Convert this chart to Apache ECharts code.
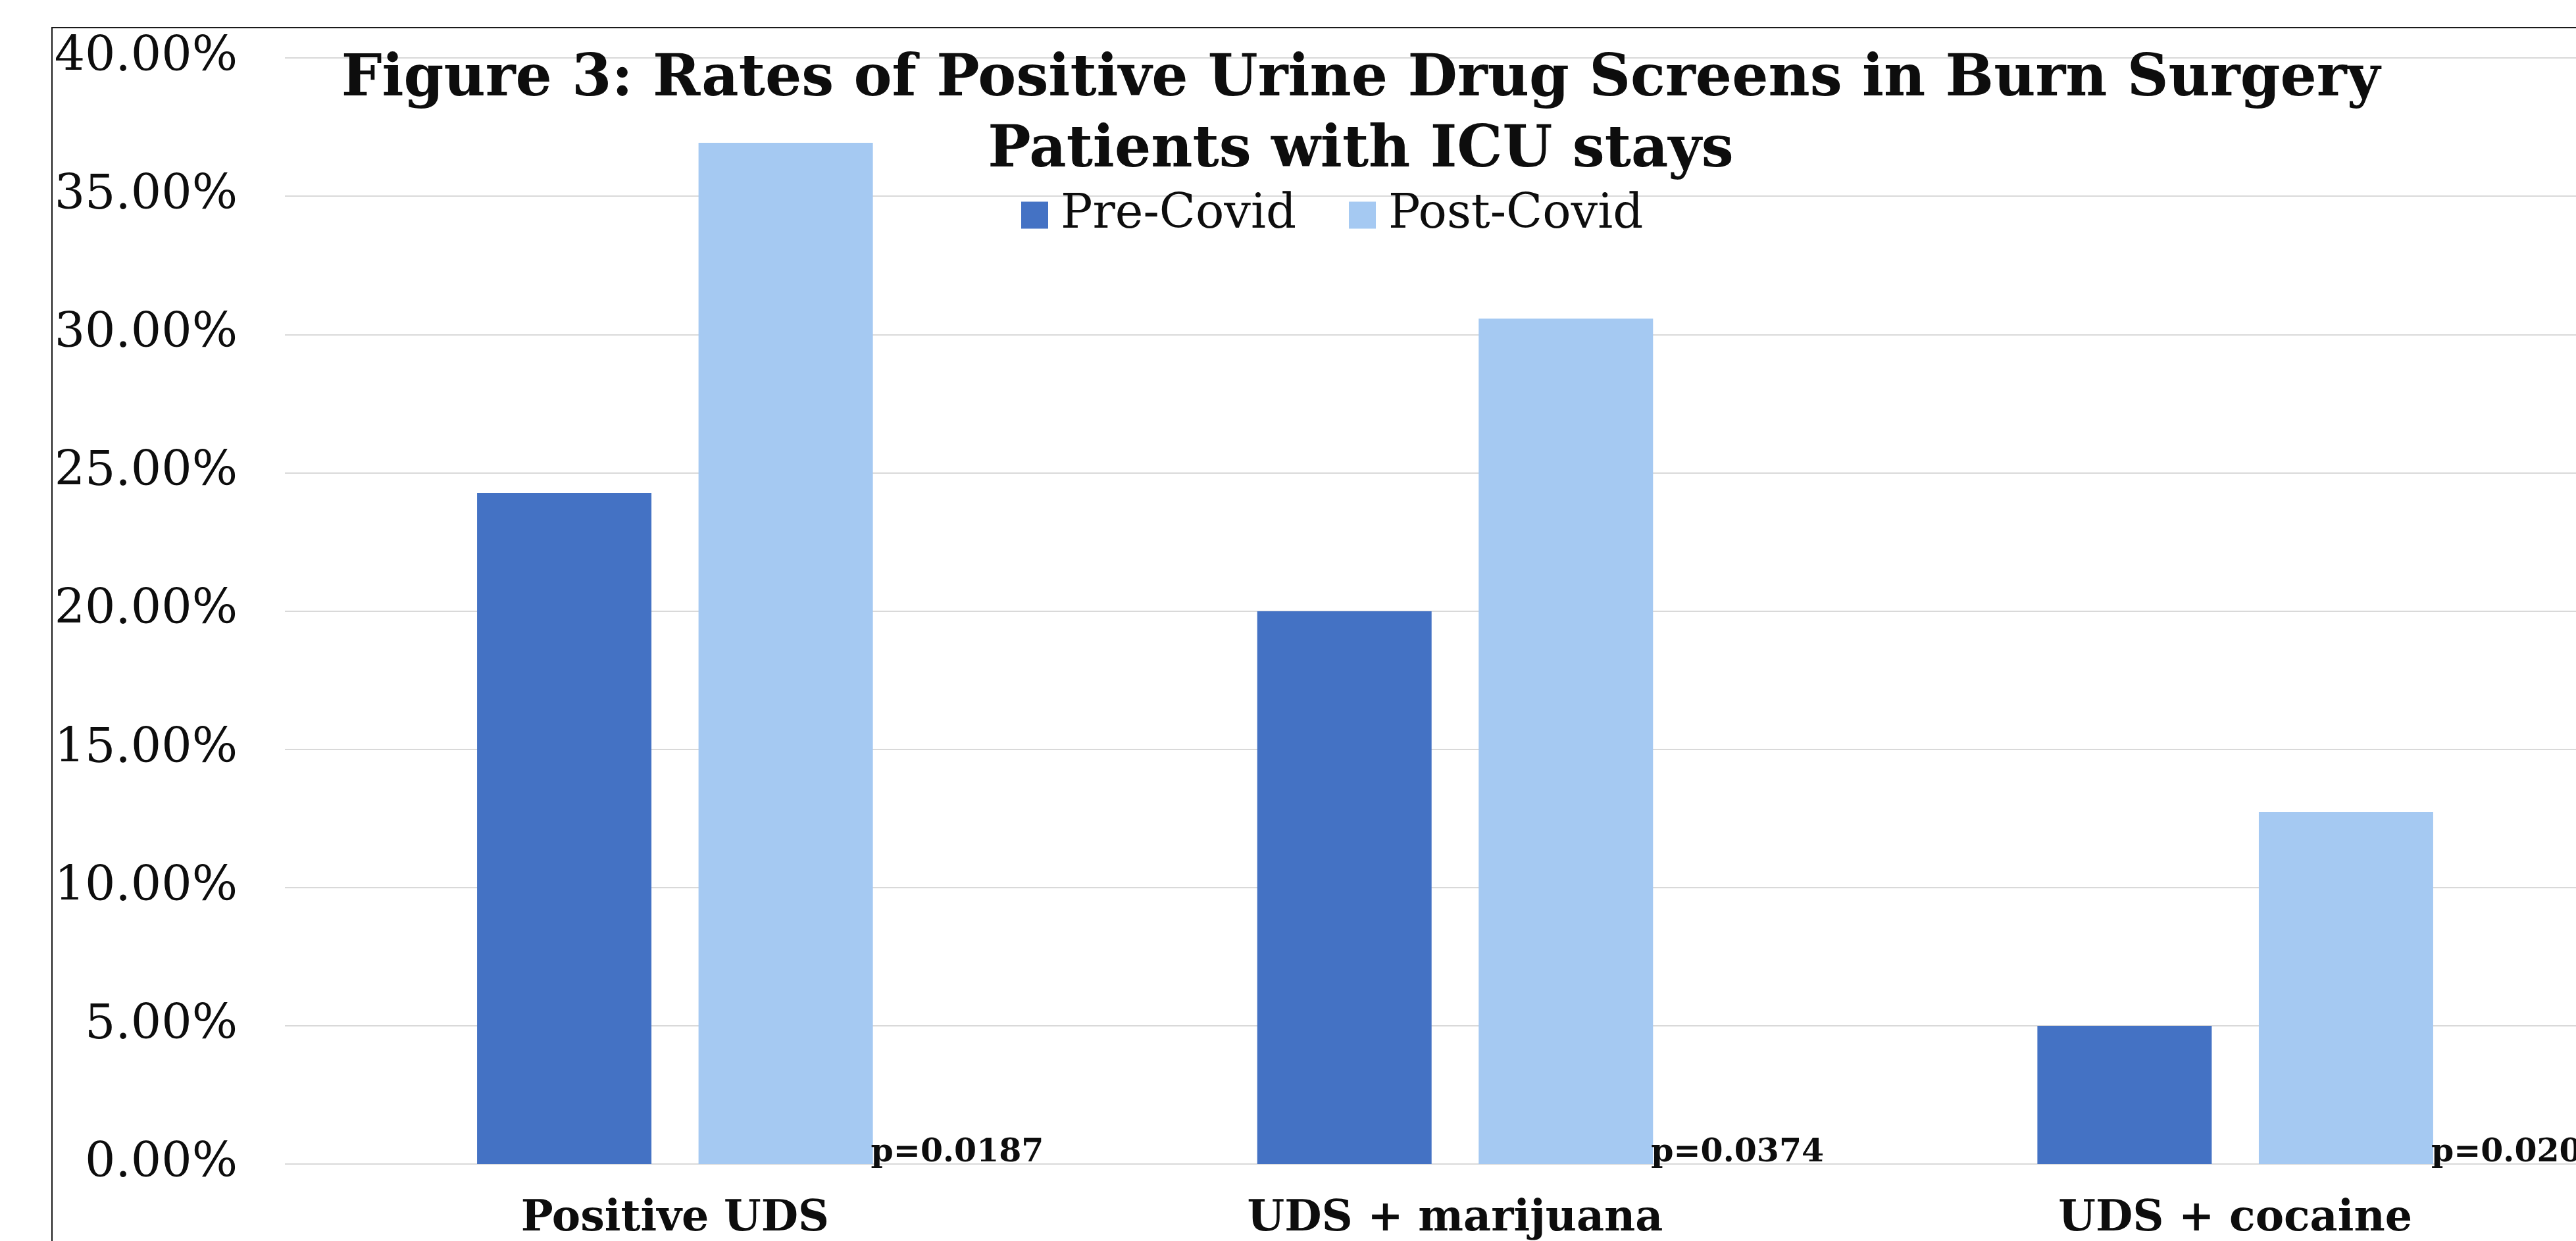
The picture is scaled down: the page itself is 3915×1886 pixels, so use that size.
<!DOCTYPE html>
<html>
<head>
<meta charset="utf-8">
<script src="https://cdn.jsdelivr.net/npm/echarts@6/dist/echarts.min.js"></script>
<style>
html,body{margin:0;padding:0;background:#fff;overflow:hidden;width:3915px;height:1886px;}
#c{width:4000px;height:1886px;}
</style>
</head>
<body>
<div id="c"></div>
<script>
const categories = ['Positive UDS', 'UDS + marijuana', 'UDS + cocaine'];
const preCovid = [24.27, 19.99, 5.0];
const postCovid = [36.93, 30.57, 12.73];
const pValues = ['p=0.0187', 'p=0.0374', 'p=0.020'];
const seriesNames = ['Pre-Covid', 'Post-Covid'];
const titleText = 'Figure 3: Rates of Positive Urine Drug Screens in Burn Surgery\nPatients with ICU stays';

const FONT = 'DejaVu Serif';
const chart = echarts.init(document.getElementById('c'), null, {renderer: 'canvas'});
chart.setOption({
  animation: false,
  backgroundColor: '#ffffff',
  title: {
    text: titleText,
    left: 2068,
    top: 68,
    padding: 0,
    textAlign: 'center',
    textStyle: {fontFamily: FONT, fontWeight: 'bold', fontSize: 87, lineHeight: 108, color: '#0d0d0d'}
  },
  legend: {
    data: seriesNames,
    left: 1552,
    top: 291,
    padding: 0,
    itemWidth: 41,
    itemHeight: 41,
    itemGap: 80,
    icon: 'rect',
    textStyle: {fontFamily: FONT, fontSize: 72, color: '#0d0d0d', padding: [0, 0, 0, 14]}
  },
  graphic: [{
    type: 'rect',
    z: -10,
    shape: {x: 79, y: 42, width: 4200, height: 2200},
    style: {fill: null, stroke: '#1a1a1a', lineWidth: 2}
  }],
  grid: {left: 433, right: 10, top: 88, bottom: 116, containLabel: false},
  xAxis: {
    type: 'category',
    data: categories,
    axisLine: {show: false},
    axisTick: {show: false},
    axisLabel: {fontFamily: FONT, fontWeight: 'bold', fontSize: 65, color: '#0d0d0d', margin: 52, interval: 0}
  },
  yAxis: {
    type: 'value',
    min: 0,
    max: 40,
    interval: 5,
    axisLine: {show: false},
    axisTick: {show: false},
    splitLine: {lineStyle: {color: '#d9d9d9', width: 2}},
    axisLabel: {fontFamily: FONT, fontSize: 73, color: '#0d0d0d', margin: 72,
      formatter: v => v.toFixed(2) + '%'}
  },
  series: [{
    name: seriesNames[0],
    type: 'bar',
    data: preCovid,
    barWidth: 265,
    barGap: '27%',
    itemStyle: {color: '#4472c4'}
  }, {
    name: seriesNames[1],
    type: 'bar',
    data: postCovid,
    barWidth: 265,
    barGap: '27%',
    itemStyle: {color: '#a5c9f2'},
    label: {
      show: true,
      position: ['100%', '100%'],
      align: 'left',
      verticalAlign: 'middle',
      offset: [-3, -17],
      fontFamily: FONT,
      fontWeight: 'bold',
      fontSize: 49,
      color: '#0d0d0d',
      formatter: p => pValues[p.dataIndex]
    }
  }]
});
</script>
</body>
</html>
